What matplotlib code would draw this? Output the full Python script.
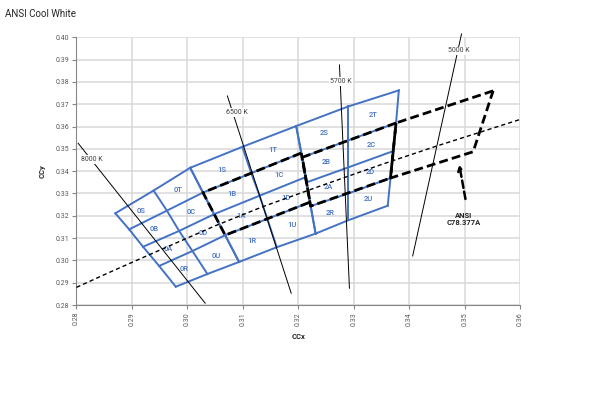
import matplotlib
matplotlib.use("Agg")
import matplotlib.pyplot as plt
import numpy as np

plt.rcParams['font.family'] = ['Roboto', 'DejaVu Sans']

# ---- data -------------------------------------------------------------
# bin groups: each group has 3 "isotemperature" edges (left, middle, right),
# each edge given by 5 points from top to bottom
g0_x = [[0.2870, 0.2895, 0.2920, 0.2949, 0.2979],
        [0.2939, 0.2963, 0.2985, 0.3009, 0.3036],
        [0.3005, 0.3028, 0.3048, 0.3068, 0.3093]]
g0_y = [[0.3211, 0.3139, 0.3061, 0.2975, 0.2882],
        [0.3313, 0.3223, 0.3132, 0.3042, 0.2939],
        [0.3415, 0.3304, 0.3207, 0.3113, 0.2993]]
g1_x = [[0.3005, 0.3028, 0.3048, 0.3068, 0.3093],
        [0.3099, 0.3115, 0.3130, 0.3144, 0.3161],
        [0.3196, 0.3205, 0.3213, 0.3221, 0.3231]]
g1_y = [[0.3415, 0.3304, 0.3207, 0.3113, 0.2993],
        [0.3509, 0.3391, 0.3290, 0.3186, 0.3059],
        [0.3602, 0.3481, 0.3373, 0.3261, 0.3120]]
g2_x = [[0.3196, 0.3207, 0.3215, 0.3222, 0.3231],
        [0.3290, 0.3290, 0.3290, 0.3290, 0.3290],
        [0.3381, 0.3376, 0.3371, 0.3366, 0.3361]]
g2_y = [[0.3602, 0.3462, 0.3350, 0.3243, 0.3120],
        [0.3690, 0.3538, 0.3417, 0.3300, 0.3180],
        [0.3762, 0.3616, 0.3490, 0.3369, 0.3245]]
group_prefix = ['0', '1', '2']
bin_letters = [['S', 'T'], ['B', 'C'], ['A', 'D'], ['R', 'U']]

# ANSI C78.377A quadrangles
ansi_6500_x = [0.3205, 0.3028, 0.3068, 0.3221]
ansi_6500_y = [0.3481, 0.3304, 0.3113, 0.3261]
ansi_5700_x = [0.3376, 0.3207, 0.3222, 0.3366]
ansi_5700_y = [0.3616, 0.3462, 0.3243, 0.3369]
ansi_5000_x = [0.3551, 0.3376, 0.3366, 0.3515]
ansi_5000_y = [0.3760, 0.3616, 0.3369, 0.3487]

# black body locus
bbl_x = [0.2800, 0.2860, 0.2952, 0.3050, 0.3135, 0.3230, 0.3350, 0.3451, 0.3600]
bbl_y = [0.2879, 0.2947, 0.3048, 0.3155, 0.3240, 0.3325, 0.3430, 0.3514, 0.3632]

# isotemperature lines
cct_labels = ['8000 K', '6500 K', '5700 K', '5000 K']
cct_x0 = [0.2803, 0.3072, 0.3274, 0.3494]
cct_y0 = [0.3525, 0.3737, 0.3876, 0.4015]
cct_x1 = [0.3032, 0.3187, 0.3292, 0.3406]
cct_y1 = [0.2808, 0.2853, 0.2875, 0.3020]
cct_lab_x = [0.2828, 0.3089, 0.3277, 0.3489]
cct_lab_y = [0.3452, 0.3663, 0.3801, 0.3939]

arrow_tail = (0.3502, 0.3263)
arrow_head = (0.3489, 0.3442)
ansi_label = 'ANSI\nC78.377A'
ansi_label_pos = (0.3498, 0.3186)

x_ticks = [0.28, 0.29, 0.30, 0.31, 0.32, 0.33, 0.34, 0.35, 0.36]
y_ticks = [0.28, 0.29, 0.30, 0.31, 0.32, 0.33, 0.34, 0.35, 0.36, 0.37, 0.38, 0.39, 0.40]

# ---- figure -------------------------------------------------------------
fig = plt.figure(figsize=(5.91, 4.13), dpi=100)
ax = fig.add_axes([0.1294, 0.2615, 0.7510, 0.6482])
ax.set_xlim(0.28, 0.36)
ax.set_ylim(0.28, 0.40)
ax.set_xticks(x_ticks)
ax.set_yticks(y_ticks)
ax.set_xticklabels(['%.2f' % v for v in x_ticks], rotation=90, fontsize=5, color='#595959')
ax.set_yticklabels(['%.2f' % v for v in y_ticks], fontsize=5, color='#595959')
ax.grid(True, color='#d9d9d9', lw=1.1, zorder=0)
ax.set_axisbelow(True)
for s in ['top', 'right']:
    ax.spines[s].set_visible(False)
for s in ['left', 'bottom']:
    ax.spines[s].set_color('#868686')
    ax.spines[s].set_linewidth(0.8)
ax.tick_params(axis='both', color='#868686', length=3, width=0.8, pad=2)

blue = '#4472C4'
for gx, gy, pre in zip([g0_x, g1_x, g2_x], [g0_y, g1_y, g2_y], group_prefix):
    gx = np.array(gx); gy = np.array(gy)
    for i in range(3):
        ax.plot(gx[i], gy[i], color=blue, lw=1.4, zorder=2)
    for j in range(5):
        ax.plot(gx[:, j], gy[:, j], color=blue, lw=1.4, zorder=2)
    for r in range(4):
        for c in range(2):
            cx = (gx[c, r] + gx[c + 1, r] + gx[c, r + 1] + gx[c + 1, r + 1]) / 4
            cy = (gy[c, r] + gy[c + 1, r] + gy[c, r + 1] + gy[c + 1, r + 1]) / 4
            ax.text(cx, cy, pre + bin_letters[r][c], color=blue, fontsize=5.5,
                    fontweight='medium', ha='center', va='center', zorder=3)

# black body locus
ax.plot(bbl_x, bbl_y, color='black', lw=1.0, dashes=(3, 2.2), zorder=4)

# ANSI quadrangles
for qx, qy in [(ansi_6500_x, ansi_6500_y), (ansi_5700_x, ansi_5700_y), (ansi_5000_x, ansi_5000_y)]:
    ax.plot(list(qx) + [qx[0]], list(qy) + [qy[0]], color='black', lw=2.0,
            dashes=(3.2, 1.5), zorder=5)

# isotemperature lines with labels
for i in range(len(cct_labels)):
    ax.plot([cct_x0[i], cct_x1[i]], [cct_y0[i], cct_y1[i]], color='black', lw=0.7,
            zorder=6, clip_on=False)
    ax.text(cct_lab_x[i], cct_lab_y[i], cct_labels[i], fontsize=5, color='#404040',
            ha='center', va='center', zorder=7,
            bbox=dict(facecolor='white', edgecolor='none', pad=0.6))

# ANSI annotation
ax.annotate('', xy=arrow_head, xytext=arrow_tail,
            arrowprops=dict(arrowstyle='->', color='black', lw=1.8, linestyle=(0, (3, 1.5)),
                            mutation_scale=8), zorder=8)
ax.text(ansi_label_pos[0], ansi_label_pos[1], ansi_label, fontsize=5.5, fontweight='bold',
        ha='center', va='center', color='#262626', linespacing=1.1, zorder=8)

ax.set_xlabel('CCx', fontsize=5.5, fontweight='bold', color='#262626', labelpad=5)
ax.set_ylabel('CCy', fontsize=5.5, fontweight='bold', color='#262626', labelpad=7)

fig.text(0.009, 0.967, 'ANSI Cool White', fontsize=7, color='#262626', ha='left', va='center')

fig.savefig('out.png', dpi=100)
